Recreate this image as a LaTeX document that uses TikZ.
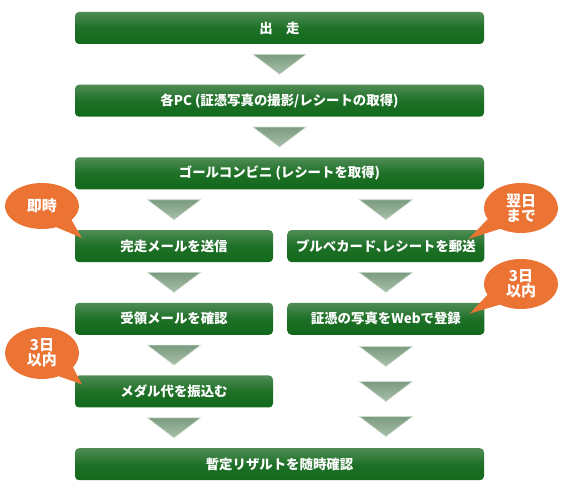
\documentclass[tikz,border=0pt]{standalone}
\usepackage{fontspec}
\setmainfont{Noto Sans CJK JP}
\usepackage{tikz}
\usetikzlibrary{positioning}
\usetikzlibrary{calc}
\usetikzlibrary{shapes.callouts}

\definecolor{boxtop}{HTML}{4F8C55}
\definecolor{boxmid}{HTML}{1E7027}
\definecolor{boxbot}{HTML}{11691B}
\definecolor{tritop}{HTML}{7B9C80}
\definecolor{tribot}{HTML}{A9BFA9}
\definecolor{bubble}{HTML}{EB7333}

\newcommand{\flowtri}[1]{\shade[tri] #1 ++(-26.5,10) -- ++(53,0) -- ++(-26.5,-20) -- cycle;}

\begin{document}
\begin{tikzpicture}[
    x=1pt, y=1pt,
    node distance=40.3pt and 14pt,
    block/.style={
        rectangle,
        rounded corners=4pt,
        minimum height=32pt,
        inner sep=0pt,
        text=white,
        font=\fontsize{13.4}{15}\selectfont\bfseries,
        top color=boxtop,
        bottom color=boxbot,
        middle color=boxmid
    },
    wide/.style={block, minimum width=409pt},
    half/.style={block, minimum width=198pt},
    bubble/.style={
        ellipse callout,
        fill=bubble,
        text=white,
        align=center,
        inner sep=0pt,
        minimum width=74pt,
        minimum height=48pt,
        callout pointer arc=30,
        font=\fontsize{15}{15}\selectfont\bfseries
    },
    tri/.style={top color=tritop, bottom color=tribot, draw=tribot!55!white, line width=0.6pt}
]
    \useasboundingbox (0,0) rectangle (565,497);

    \node[wide] (start) at (279.5,469) {出　走};
    \node[wide, below=of start] (pc) {各PC (証憑写真の撮影/レシートの取得)};
    \node[wide, below=of pc] (goal) {ゴールコンビニ (レシートを取得)};
    \node[half, below=of goal.south west, anchor=north west] (mail) {完走メールを送信};
    \node[half, right=of mail, minimum width=197pt] (post) {ブルベカード、\kern-0.55em レシートを郵送};
    \node[half, below=of mail] (check) {受領メールを確認};
    \node[half, below=of post, minimum width=197pt] (web) {証憑の写真をWebで登録};
    \node[half, below=of check] (medal) {メダル代を振込む};
    \node[wide, below=of medal.south west, anchor=north west] (result) {暫定リザルトを随時確認};

    \flowtri{($(start.south)!.5!(pc.north)$)}
    \flowtri{($(pc.south)!.5!(goal.north)$)}
    \flowtri{($(mail.north)!.5!(mail.north |- goal.south)$)}
    \flowtri{($(post.north)!.5!(post.north |- goal.south)$)}
    \flowtri{($(mail.south)!.5!(check.north)$)}
    \flowtri{($(post.south)!.5!(web.north)$)}
    \flowtri{($(check.south)!.5!(medal.north)$)}
    \flowtri{($(medal.south)!.5!(medal.south |- result.north)$)}
    \flowtri{($(web.south)!.19!(web.south |- result.north)$)}
    \flowtri{($(web.south)!.5!(web.south |- result.north)$)}
    \flowtri{($(web.south)!.81!(web.south |- result.north)$)}

    \coordinate (tipmail) at ([shift={(7,-8)}]mail.north west);
    \coordinate (tippost) at ([shift={(-16,-9)}]post.north east);
    \coordinate (tipweb) at ([shift={(-15,-11)}]web.north east);
    \coordinate (tipmedal) at ([shift={(7,-9)}]medal.north west);

    \node[bubble, minimum height=46pt, callout absolute pointer={(tipmail)}] (now) at (42,291) {即時};
    \node[bubble, minimum height=50pt, callout absolute pointer={(tippost)}] (nextday) at (521,289) {翌日\\まで};
    \node[bubble, minimum height=50pt, callout absolute pointer={(tipweb)}] (threeweb) at (521,213) {3日\\以内};
    \node[bubble, minimum height=52pt, callout absolute pointer={(tipmedal)}] (threemedal) at (42,144) {3日\\以内};
\end{tikzpicture}
\end{document}
